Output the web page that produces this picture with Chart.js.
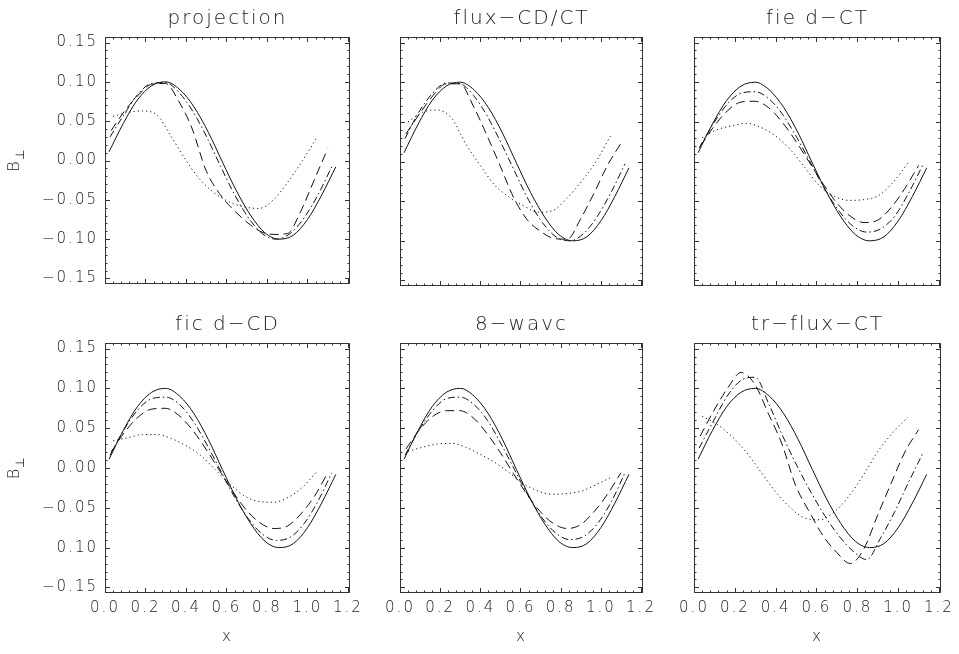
<!DOCTYPE html>
<html>
<head>
<meta charset="utf-8">
<script src="https://cdn.jsdelivr.net/npm/chart.js@4.4.1/dist/chart.umd.min.js"></script>
<style>
  html, body { margin: 0; padding: 0; background: #fff; }
  #wrap { position: relative; width: 959px; height: 654px; background: #fff; overflow: hidden; }
</style>
</head>
<body>
<div id="wrap"></div>
<script>
// ---------------- DATA ----------------
const panelTitles = ["projection", "flux\u2212CD/CT", "fie d\u2212CT", "fic d\u2212CD", "8\u2212wavc", "tr\u2212flux\u2212CT"];

const xTickValues = [0.0, 0.2, 0.4, 0.6, 0.8, 1.0, 1.2];
const xTickLabels = ["0.0", "0.2", "0.4", "0.6", "0.8", "1.0", "1.2"];
const yTickValues = [-0.15, -0.10, -0.05, 0.00, 0.05, 0.10, 0.15];
const yTickLabelsTop = ["\u22120.15", "\u22120.10", "\u22120.05", "0.00", "0.05", "0.10", "0.15"];
const yTickLabelsBottom = ["\u22120.15", "0.10", "\u22120.05", "0.00", "0.05", "0.10", "0.15"];
const xAxisTitle = "x";

// x positions of the sampled points of each line style
const xSolid   = [0.02, 0.09, 0.16, 0.23, 0.30, 0.37, 0.44, 0.51, 0.58, 0.65, 0.72, 0.79, 0.86, 0.93, 1.00, 1.07, 1.14];
const xDashDot = [0.025, 0.093, 0.162, 0.230, 0.299, 0.367, 0.435, 0.504, 0.572, 0.641, 0.709, 0.777, 0.846, 0.914, 0.983, 1.051, 1.120];
const xDashed  = [0.030, 0.097, 0.164, 0.231, 0.298, 0.365, 0.431, 0.498, 0.565, 0.632, 0.699, 0.766, 0.833, 0.900, 0.966, 1.033, 1.100];
const xDotted  = [0.040, 0.112, 0.184, 0.256, 0.328, 0.400, 0.472, 0.544, 0.616, 0.688, 0.760, 0.832, 0.904, 0.976, 1.048];

// exact solution (solid), same in every panel
const exactSolid = [0.011, 0.047, 0.077, 0.095, 0.100, 0.090, 0.068, 0.036, -0.002, -0.039, -0.070, -0.092, -0.100, -0.095, -0.075, -0.044, -0.008];

// projection
const projDashDot = [0.030, 0.058, 0.084, 0.098, 0.099, 0.086, 0.062, 0.029, -0.008, -0.044, -0.073, -0.093, -0.100, -0.093, -0.073, -0.044, -0.008];
const projDashed  = [0.038, 0.063, 0.083, 0.097, 0.098, 0.075, 0.040, -0.012, -0.042, -0.062, -0.078, -0.090, -0.094, -0.093, -0.065, -0.025, 0.015];
const projDotted  = [0.056, 0.061, 0.063, 0.058, 0.030, 0.000, -0.025, -0.042, -0.053, -0.059, -0.061, -0.050, -0.027, 0.000, 0.030];

// flux-CD/CT
const fluxDashDot = [0.029, 0.062, 0.086, 0.099, 0.098, 0.083, 0.057, 0.023, -0.013, -0.049, -0.077, -0.095, -0.100, -0.091, -0.069, -0.039, -0.003];
const fluxDashed  = [0.035, 0.060, 0.083, 0.098, 0.098, 0.070, 0.034, -0.005, -0.045, -0.073, -0.088, -0.097, -0.098, -0.072, -0.040, -0.005, 0.023];
const fluxDotted  = [0.050, 0.062, 0.065, 0.055, 0.022, -0.005, -0.030, -0.045, -0.056, -0.064, -0.062, -0.046, -0.025, 0.000, 0.032];

// field-CT
const fieldCTDashDot = [0.017, 0.047, 0.072, 0.086, 0.088, 0.079, 0.059, 0.030, -0.002, -0.035, -0.062, -0.081, -0.089, -0.085, -0.069, -0.040, -0.005];
const fieldCTDashed  = [0.019, 0.044, 0.064, 0.075, 0.076, 0.068, 0.050, 0.026, -0.001, -0.028, -0.052, -0.069, -0.077, -0.074, -0.058, -0.034, -0.005];
const fieldCTDotted  = [0.030, 0.040, 0.045, 0.048, 0.043, 0.032, 0.015, -0.008, -0.031, -0.044, -0.049, -0.048, -0.043, -0.026, -0.002];

// field-CD
const fieldCDDashDot = [0.016, 0.048, 0.073, 0.087, 0.089, 0.080, 0.059, 0.029, -0.004, -0.037, -0.064, -0.083, -0.091, -0.087, -0.070, -0.042, -0.006];
const fieldCDDashed  = [0.020, 0.045, 0.064, 0.074, 0.075, 0.066, 0.048, 0.024, -0.003, -0.030, -0.053, -0.069, -0.076, -0.073, -0.058, -0.036, -0.006];
const fieldCDDotted  = [0.034, 0.038, 0.042, 0.042, 0.037, 0.028, 0.016, -0.002, -0.020, -0.035, -0.042, -0.043, -0.037, -0.024, -0.004];

// 8-wave
const eightDashDot = [0.016, 0.047, 0.072, 0.087, 0.089, 0.080, 0.060, 0.030, -0.003, -0.036, -0.063, -0.082, -0.090, -0.086, -0.070, -0.043, -0.006];
const eightDashed  = [0.024, 0.048, 0.065, 0.072, 0.072, 0.063, 0.044, 0.020, -0.007, -0.033, -0.055, -0.070, -0.076, -0.071, -0.055, -0.033, -0.006];
const eightDotted  = [0.021, 0.026, 0.030, 0.031, 0.026, 0.017, 0.007, -0.006, -0.020, -0.029, -0.033, -0.032, -0.029, -0.021, -0.012];

// tr-flux-CT
const trDashDot = [0.025, 0.058, 0.090, 0.110, 0.114, 0.080, 0.040, 0.003, -0.030, -0.060, -0.085, -0.104, -0.115, -0.088, -0.055, -0.018, 0.018];
const trDashed  = [0.040, 0.072, 0.100, 0.120, 0.105, 0.068, 0.030, -0.022, -0.055, -0.085, -0.106, -0.120, -0.101, -0.059, -0.019, 0.020, 0.048];
const trDotted  = [0.065, 0.055, 0.040, 0.020, -0.005, -0.030, -0.050, -0.063, -0.065, -0.055, -0.035, -0.008, 0.022, 0.045, 0.064];

// ---------------- LAYOUT ----------------
const FONT = "'DejaVu Sans', sans-serif";
const INK = '#1a1a1a';
const colCells = [[0, 375], [375, 669], [669, 959]];
const rowCells = [[0, 300], [300, 654]];
const colBoxes = [[105, 350], [400, 643], [694, 941]];
const rowBoxes = [[37, 286], [343, 593]];
const X_MIN = 0, X_MAX = 1.21, Y_MIN = -0.157, Y_MAX = 0.157;

const panels = [
  { title: panelTitles[0], dd: projDashDot,    dash: projDashed,    dot: projDotted,    row: 0, col: 0 },
  { title: panelTitles[1], dd: fluxDashDot,    dash: fluxDashed,    dot: fluxDotted,    row: 0, col: 1 },
  { title: panelTitles[2], dd: fieldCTDashDot, dash: fieldCTDashed, dot: fieldCTDotted, row: 0, col: 2 },
  { title: panelTitles[3], dd: fieldCDDashDot, dash: fieldCDDashed, dot: fieldCDDotted, row: 1, col: 0 },
  { title: panelTitles[4], dd: eightDashDot,   dash: eightDashed,   dot: eightDotted,   row: 1, col: 1 },
  { title: panelTitles[5], dd: trDashDot,      dash: trDashed,      dot: trDotted,      row: 1, col: 2 }
];

function pts(xs, ys) { return xs.map((x, i) => ({ x: x, y: ys[i] })); }

const spacingPlugin = {
  id: 'spacing',
  beforeDraw(chart) { chart.ctx.letterSpacing = '2px'; }
};

// frame with inward major/minor ticks on all four sides (IDL style)
const framePlugin = {
  id: 'frame',
  afterDatasetsDraw(chart) {
    const { ctx, chartArea: a, scales } = chart;
    const sx = scales.x, sy = scales.y;
    ctx.save();
    ctx.letterSpacing = '0px';
    ctx.strokeStyle = '#333';
    ctx.lineWidth = 1;
    ctx.strokeRect(a.left + 0.5, a.top + 0.5, a.right - a.left - 1, a.bottom - a.top - 1);
    ctx.beginPath();
    for (let i = 0; i <= 30; i++) {
      const v = i * 0.04;
      if (v > X_MAX) break;
      const p = Math.round(sx.getPixelForValue(v)) + 0.5;
      const L = (i % 5 === 0) ? 5 : 2.5;
      ctx.moveTo(p, a.bottom); ctx.lineTo(p, a.bottom - L);
      ctx.moveTo(p, a.top); ctx.lineTo(p, a.top + L);
    }
    for (let i = -15; i <= 15; i++) {
      const v = i * 0.01;
      const p = Math.round(sy.getPixelForValue(v)) + 0.5;
      const L = (i % 5 === 0) ? 5 : 2.5;
      ctx.moveTo(a.left, p); ctx.lineTo(a.left + L, p);
      ctx.moveTo(a.right, p); ctx.lineTo(a.right - L, p);
    }
    ctx.stroke();
    ctx.restore();
  }
};

// rotated "B⊥" y-axis title
const yTitlePlugin = {
  id: 'ytitle',
  afterDraw(chart) {
    const { ctx, chartArea: a } = chart;
    ctx.save();
    ctx.letterSpacing = '0px';
    ctx.fillStyle = INK;
    ctx.translate(19, (a.top + a.bottom) / 2 + 1);
    ctx.rotate(-Math.PI / 2);
    ctx.textBaseline = 'alphabetic';
    ctx.textAlign = 'left';
    ctx.font = "200 16px " + FONT;
    const wB = ctx.measureText('B').width;
    ctx.font = "200 12px " + FONT;
    const wP = ctx.measureText('\u22A5').width;
    const start = -(wB + wP) / 2;
    ctx.font = "200 16px " + FONT;
    ctx.fillText('B', start, 0);
    ctx.font = "200 12px " + FONT;
    ctx.fillText('\u22A5', start + wB + 1, 5);
    ctx.restore();
  }
};

const wrap = document.getElementById('wrap');

panels.forEach(p => {
  const [cx0, cx1] = colCells[p.col];
  const [cy0, cy1] = rowCells[p.row];
  const [bl, br] = colBoxes[p.col];
  const [bt, bb] = rowBoxes[p.row];
  const cw = cx1 - cx0, ch = cy1 - cy0;
  const canvas = document.createElement('canvas');
  canvas.width = cw; canvas.height = ch;
  canvas.style.cssText = `position:absolute;left:${cx0}px;top:${cy0}px;width:${cw}px;height:${ch}px;`;
  wrap.appendChild(canvas);

  const showY = p.col === 0;
  const showX = p.row === 1;
  const titleSize = 20, titleH = titleSize * 1.2;
  const titleCenter = (bt - 18.5) - cy0;
  const padTop = titleCenter - titleH / 2;
  const padBottom = (bt - cy0) - titleH - padTop;
  const yLabels = p.row === 0 ? yTickLabelsTop : yTickLabelsBottom;
  const tickFont = { family: FONT, size: 15, weight: '200' };

  const line = (label, xs, ys, dash) => ({
    label, data: pts(xs, ys), borderColor: '#111', borderWidth: 1, borderDash: dash,
    pointRadius: 0, fill: false, cubicInterpolationMode: 'monotone'
  });

  const plugins = [spacingPlugin, framePlugin];
  if (showY) plugins.push(yTitlePlugin);

  new Chart(canvas, {
    type: 'line',
    data: {
      datasets: [
        line('exact', xSolid, exactSolid, []),
        line('dash-dot', xDashDot, p.dd, [7, 3, 1.5, 3]),
        line('dashed', xDashed, p.dash, [9, 5]),
        line('dotted', xDotted, p.dot, [1.2, 3])
      ]
    },
    options: {
      responsive: false,
      animation: false,
      devicePixelRatio: 1,
      layout: { padding: { left: 0, right: cx1 - br, top: 0, bottom: 0 } },
      plugins: {
        legend: { display: false },
        tooltip: { enabled: false },
        title: {
          display: true, text: p.title, color: INK, fullSize: false,
          font: { family: FONT, size: titleSize, weight: '200', lineHeight: 1.2 },
          padding: { top: padTop, bottom: padBottom }
        }
      },
      scales: {
        x: {
          type: 'linear', min: X_MIN, max: X_MAX,
          grid: { display: false, drawTicks: false },
          border: { display: false },
          afterBuildTicks: s => { s.ticks = xTickValues.map(v => ({ value: v })); },
          afterFit: s => { s.height = cy1 - bb; },
          ticks: {
            display: showX, padding: 6, maxRotation: 0, autoSkip: false, color: INK,
            font: tickFont, callback: (v, i) => xTickLabels[i]
          },
          title: {
            display: showX, text: xAxisTitle, color: INK,
            font: { family: FONT, size: 15, weight: '200', lineHeight: 1.2 },
            padding: { top: 0, bottom: 8 }
          }
        },
        y: {
          type: 'linear', min: Y_MIN, max: Y_MAX,
          grid: { display: false, drawTicks: false },
          border: { display: false },
          afterBuildTicks: s => { s.ticks = yTickValues.map(v => ({ value: v })); },
          afterFit: s => { s.width = bl - cx0; },
          ticks: {
            display: showY, padding: 7, autoSkip: false, color: INK,
            font: tickFont, callback: (v, i) => yLabels[i]
          }
        }
      }
    },
    plugins: plugins
  });
});
</script>
</body>
</html>
